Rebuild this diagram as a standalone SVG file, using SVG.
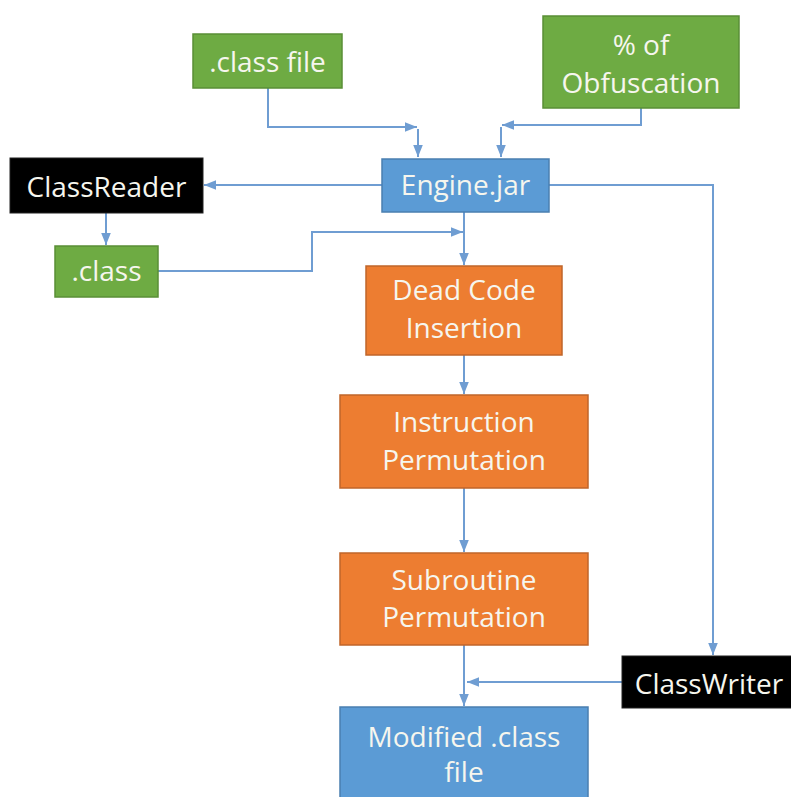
<svg xmlns="http://www.w3.org/2000/svg" width="791" height="797" viewBox="0 0 791 797">
<defs>
<style>
.g{fill:#6eab43;stroke:#5a8f36;stroke-width:1.5}
.b{fill:#5b9bd5;stroke:#4a7fb0;stroke-width:1.5}
.o{fill:#ed7d31;stroke:#c0652a;stroke-width:1.5}
.k{fill:#000;stroke:#222;stroke-width:1}
.t{font-family:"Open Sans","Noto Sans",sans-serif;font-size:28px;fill:#f6f6ee;text-anchor:middle}
.c{fill:none;stroke:#6f9dd2;stroke-width:2;marker-end:url(#ah)}
</style>
<marker id="ah" markerUnits="userSpaceOnUse" markerWidth="12" markerHeight="12" viewBox="0 0 10 10" refX="10" refY="5" orient="auto">
<path d="M0,1 L10,5 L0,9 z" fill="#6f9dd2"/>
</marker>
</defs>
<rect width="791" height="797" fill="#fff"/>
<g id="connectors">
<path class="c" d="M268,88 V127 H417"/>
<path class="c" d="M418,129 V157"/>
<path class="c" d="M641,108 V125 H502"/>
<path class="c" d="M501,127 V157"/>
<path class="c" d="M382,185 H204"/>
<path class="c" d="M549,185 H713 V655"/>
<path class="c" d="M106,213 V245"/>
<path class="c" d="M158,271 H312 V232 H463"/>
<path class="c" d="M464,212 V265"/>
<path class="c" d="M464,355 V394"/>
<path class="c" d="M464,488 V552"/>
<path class="c" d="M464,645 V706"/>
<path class="c" d="M622,682 H467"/>
</g>
<g id="classfile">
<rect class="g" x="193" y="34" width="149" height="54"/>
<text class="t" x="267.5" y="72">.class file</text>
</g>
<g id="obfuscation">
<rect class="g" x="543" y="16" width="196" height="92"/>
<text class="t" x="641" y="55">% of</text>
<text class="t" x="641" y="93">Obfuscation</text>
</g>
<g id="engine">
<rect class="b" x="382" y="159" width="167" height="53"/>
<text class="t" x="465.5" y="195">Engine.jar</text>
</g>
<g id="classreader">
<rect class="k" x="10" y="158" width="193" height="55"/>
<text class="t" x="106.5" y="197">ClassReader</text>
</g>
<g id="class">
<rect class="g" x="55" y="246" width="103" height="51"/>
<text class="t" x="106.5" y="281">.class</text>
</g>
<g id="deadcode">
<rect class="o" x="366" y="266" width="196" height="89"/>
<text class="t" x="464" y="300">Dead Code</text>
<text class="t" x="464" y="338">Insertion</text>
</g>
<g id="instruction">
<rect class="o" x="340" y="395" width="248" height="93"/>
<text class="t" x="464" y="432">Instruction</text>
<text class="t" x="464" y="470">Permutation</text>
</g>
<g id="subroutine">
<rect class="o" x="340" y="553" width="248" height="92"/>
<text class="t" x="464" y="590">Subroutine</text>
<text class="t" x="464" y="627">Permutation</text>
</g>
<g id="classwriter">
<rect class="k" x="622" y="656" width="175" height="52"/>
<text class="t" x="709" y="694">ClassWriter</text>
</g>
<g id="modified">
<rect class="b" x="340" y="707" width="248" height="100"/>
<text class="t" x="464" y="747">Modified .class</text>
<text class="t" x="464" y="782">file</text>
</g>
</svg>
